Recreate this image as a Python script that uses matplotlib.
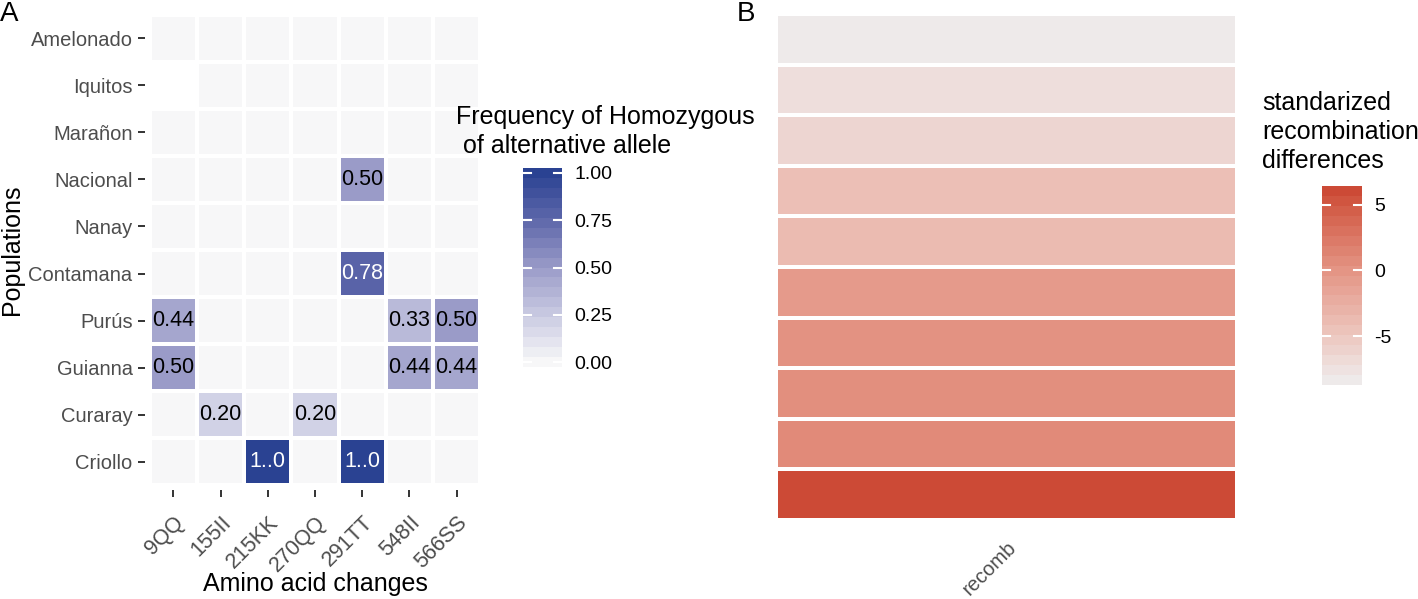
import matplotlib
matplotlib.use("Agg")
import matplotlib.pyplot as plt
import numpy as np
from matplotlib.colors import LinearSegmentedColormap

plt.rcParams["font.family"] = ["Liberation Sans", "DejaVu Sans"]

# ---- data: panel A ----
populations = ["Amelonado", "Iquitos", "Marañon", "Nacional", "Nanay",
               "Contamana", "Purús", "Guianna", "Curaray", "Criollo"]
changes = ["9QQ", "155II", "215KK", "270QQ", "291TT", "548II", "566SS"]
freq = [
    [0, 0, 0, 0, 0, 0, 0],
    [np.nan, 0, 0, 0, 0, 0, 0],
    [0, 0, 0, 0, 0, 0, 0],
    [0, 0, 0, 0, 0.50, 0, 0],
    [0, 0, 0, 0, 0, 0, 0],
    [0, 0, 0, 0, 0.78, 0, 0],
    [0.44, 0, 0, 0, 0, 0.33, 0.50],
    [0.50, 0, 0, 0, 0, 0.44, 0.44],
    [0, 0.20, 0, 0.20, 0, 0, 0],
    [0, 0, 1.0, 0, 1.0, 0, 0],
]
freq_ticks = [0.0, 0.25, 0.5, 0.75, 1.0]

# ---- data: panel B ----
recomb_label = ["recomb"]
recomb_values = [-8.36, -7.2, -6.35, -4.2, -3.8, -0.5, 0.25, 0.5, 0.9, 6.07]
recomb_ticks = [-5, 0, 5]

W, H = 1418, 599
fig = plt.figure(figsize=(W / 100, H / 100), dpi=100)


def fx(px):
    return px / W


def fy(py):
    return 1 - py / H


blue_cmap = LinearSegmentedColormap.from_list(
    "blues", [(0, "#F7F7F8"), (0.25, "#C8C9E1"), (0.5, "#9A9BC8"),
              (0.75, "#5F68AB"), (1, "#2A4292")])

rmin, rmax = min(recomb_values), max(recomb_values)


def rpos(v):
    return (v - rmin) / (rmax - rmin)


red_cmap = LinearSegmentedColormap.from_list(
    "reds", [(0, "#EEEAEA"), (rpos(-5), "#EDC7BF"), (rpos(0), "#E49585"),
             (rpos(5), "#D25A45"), (1, "#CC4A36")])

tick_grey = "#4D4D4D"
tick_dark = "#333333"

# ---------- panel A ----------
axA = fig.add_axes([fx(145), fy(490), fx(485) - fx(145), fy(10) - fy(490)])
data = np.ma.masked_invalid(np.array(freq, dtype=float))
axA.pcolormesh(np.arange(len(changes) + 1) - 0.5, np.arange(len(populations) + 1) - 0.5,
               data, cmap=blue_cmap, vmin=0, vmax=1, edgecolor="white", linewidth=1.5)
for i in range(len(populations)):
    for j in range(len(changes)):
        v = freq[i][j]
        if v and not np.isnan(v):
            txt = "1..0" if v == 1.0 else f"{v:.2f}"
            axA.text(j, i, txt, ha="center", va="center", fontsize=15.5,
                     color="white" if v > 0.7 else "black")
axA.set_xlim(-0.6, len(changes) - 0.4)
axA.set_ylim(len(populations) - 0.4, -0.6)
axA.set_xticks(range(len(changes)))
axA.set_xticklabels(changes, rotation=45, ha="right", va="top", rotation_mode="anchor")
axA.set_yticks(range(len(populations)))
axA.set_yticklabels(populations)
axA.tick_params(axis="both", length=5, width=1.4, color=tick_dark, labelcolor=tick_grey)
axA.tick_params(axis="x", pad=11, labelsize=15.5)
axA.tick_params(axis="y", pad=4, labelsize=14.5)
for s in axA.spines.values():
    s.set_visible(False)
fig.text(fx(315), fy(584), "Amino acid changes", ha="center", va="center", fontsize=18)
fig.text(fx(12), fy(250), "Populations", ha="center", va="center", rotation=90, fontsize=18)
fig.text(fx(0), fy(1), "A", ha="left", va="top", fontsize=20)


def draw_bar(rect, cmap, vmin, vmax, ticks, labels):
    ax = fig.add_axes(rect)
    nb = 20
    vals = np.linspace(vmin, vmax, nb)
    half = (vmax - vmin) / (nb - 1) / 2
    edges = np.concatenate([vals - half, [vals[-1] + half]])
    ax.pcolormesh([0, 1], edges, vals.reshape(-1, 1), cmap=cmap, vmin=vmin, vmax=vmax)
    ax.set_xlim(0, 1)
    ax.set_ylim(edges[0], edges[-1])
    for t in ticks:
        ax.plot([0, 0.2], [t, t], color="white", lw=1.5)
        ax.plot([0.8, 1], [t, t], color="white", lw=1.5)
    ax.set_xticks([])
    ax.yaxis.tick_right()
    ax.set_yticks(ticks)
    ax.set_yticklabels(labels)
    ax.tick_params(axis="y", length=0, pad=9, labelsize=14, labelcolor="black")
    for s in ax.spines.values():
        s.set_visible(False)
    return ax


draw_bar([fx(523), fy(367), fx(562) - fx(523), fy(168) - fy(367)], blue_cmap, 0, 1,
         freq_ticks, [f"{t:.2f}" for t in freq_ticks])
fig.text(fx(456), fy(153), "Frequency of Homozygous\n of alternative allele", ha="left",
         va="baseline", fontsize=18, linespacing=1.27)

# ---------- panel B ----------
axB = fig.add_axes([fx(730), fy(525), fx(1283) - fx(730), fy(9) - fy(525)])
axB.pcolormesh([-0.5, 0.5], np.arange(len(recomb_values) + 1) - 0.5,
               np.array(recomb_values).reshape(-1, 1), cmap=red_cmap, vmin=rmin, vmax=rmax,
               edgecolor="white", linewidth=1.5)
axB.set_xlim(-0.6, 0.6)
axB.set_ylim(len(recomb_values) - 0.4, -0.6)
axB.set_xticks([0])
axB.set_xticklabels(recomb_label, rotation=45, ha="right", va="top", rotation_mode="anchor")
axB.set_yticks([])
axB.tick_params(axis="x", length=0, pad=9, labelsize=14.5, labelcolor=tick_grey)
for s in axB.spines.values():
    s.set_visible(False)
fig.text(fx(737), fy(1), "B", ha="left", va="top", fontsize=20)

draw_bar([fx(1322), fy(385), fx(1362) - fx(1322), fy(186) - fy(385)], red_cmap, rmin, rmax,
         recomb_ticks, [str(t) for t in recomb_ticks])
fig.text(fx(1262), fy(168), "standarized\nrecombination\ndifferences", ha="left",
         va="baseline", fontsize=18, linespacing=1.27)

fig.savefig("out.png", dpi=100)
